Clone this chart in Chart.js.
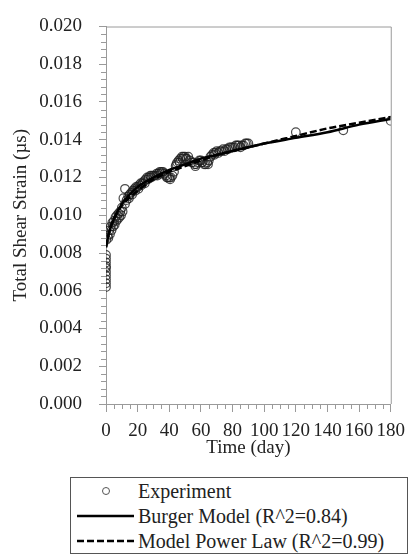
<!DOCTYPE html>
<html>
<head>
<meta charset="utf-8">
<script src="https://cdn.jsdelivr.net/npm/chart.js@4"></script>
<style>
    body{margin:0;background:#fff;}
    #wrap{position:relative;width:415px;height:470px;}
    #legend{position:absolute;left:70px;top:477px;width:338px;height:77px;border:1px solid #555;box-sizing:border-box;
        font-family:"Liberation Serif",serif;font-size:20px;color:#222;}
    #legend .row{position:absolute;left:0;height:26px;display:flex;align-items:center;white-space:nowrap;}
    #legend svg{margin-left:6px;margin-right:4px;}
</style>
</head>
<body>
<div id="wrap"><canvas id="chart"></canvas></div>
<div id="legend">
    <div class="row" style="top:0px;"><svg width="57" height="10"><circle cx="29" cy="5" r="3.5" fill="none" stroke="#555" stroke-width="1"/></svg>Experiment</div>
    <div class="row" style="top:25px;"><svg width="57" height="10"><line x1="0" y1="5" x2="57" y2="5" stroke="#000" stroke-width="2.5"/></svg>Burger Model (R^2=0.84)</div>
    <div class="row" style="top:50px;"><svg width="57" height="10"><line x1="0" y1="5" x2="57" y2="5" stroke="#000" stroke-width="2.5" stroke-dasharray="7,3"/></svg>Model Power Law (R^2=0.99)</div>
</div>
<script>
// experiment readings
const expDays = [0,0,0,0,0,0,0,0,0,0,0.3,
    1,2,3,4,5,6,7,8,9,10,11,12,12,13,14,15,16,17,18,19,20,21,22,23,24,25,26,27,28,29,30,
    31,32,33,34,35,36,37,38,39,40,41,42,43,44,45,46,47,48,49,50,51,52,53,54,55,56,57,58,59,60,
    61,62,63,64,65,66,67,68,69,70,72,74,76,78,80,82,84,86,88,90,120,150,180,
    1.5,2.5,3.5,4.5,5.5,6.5,7.5,8.5,9.5,10.5,14.5,16.5,18.5,20.5,22.5,24.5,26.5,28.5,32.5,34.5,
    38.5,40.5,44.5,46.5,48.5,50.5,56.5,60.5,64.5,68.5,71,73,75,77,79,81,83,85,87,89];
const expStrain = [0.0062,0.0064,0.0066,0.0068,0.0070,0.0072,0.0073,0.0075,0.0077,0.0079,0.0087,
    0.0089,0.0092,0.0094,0.0096,0.0097,0.0099,0.0100,0.0101,0.0102,0.0104,0.0109,0.0114,0.0106,0.0108,0.0110,0.0111,0.0112,0.0113,0.0114,0.0115,0.0115,0.0116,0.0117,0.0117,0.0118,0.0119,0.0120,0.0120,0.0121,0.0121,0.0121,
    0.0121,0.0122,0.0122,0.0123,0.0123,0.0123,0.0122,0.0121,0.0120,0.0120,0.0120,0.0121,0.0123,0.0126,0.0128,0.0129,0.0130,0.0131,0.0131,0.0131,0.0130,0.0131,0.0129,0.0128,0.0128,0.0127,0.0127,0.0128,0.0129,0.0129,
    0.0128,0.0127,0.0127,0.0128,0.0129,0.0131,0.0132,0.0133,0.0133,0.0134,0.0134,0.0135,0.0135,0.0136,0.0136,0.0137,0.0137,0.0137,0.0138,0.0138,0.0144,0.0145,0.0150,
    0.0088,0.0090,0.0092,0.0094,0.0095,0.0097,0.0098,0.0099,0.0100,0.0102,0.0109,0.0111,0.0113,0.0114,0.0116,0.0117,0.0119,0.0120,0.0121,0.0122,
    0.0120,0.0119,0.0127,0.0128,0.0130,0.0130,0.0126,0.0128,0.0127,0.0132,0.0133,0.0134,0.0134,0.0135,0.0136,0.0136,0.0137,0.0136,0.0137,0.0138];

// Burger model fit
const burgerDays = [0,2,5,10,15,20,30,40,50,60,70,80,90,100,120,140,160,180];
const burgerStrain = [0.0083,0.0091,0.0098,0.0106,0.0111,0.0115,0.0120,0.0124,0.0127,0.0130,0.0132,0.0134,0.0136,0.0138,0.0141,0.0144,0.0148,0.0151];

// power law fit
const powerDays = [0,2,5,10,20,30,40,50,60,70,80,90,100,120,140,160,180];
const powerStrain = [0.0083,0.0091,0.0098,0.0105,0.0113,0.0119,0.0123,0.0126,0.0129,0.0132,0.0134,0.0136,0.0138,0.0142,0.0146,0.0149,0.0152];

const xMajor = 20, xMinor = 5;
const yMajor = 0.002, yMinor = 0.0004;

let axisColor = "#9a9a9a";
let font = {"family": "'Liberation Serif', serif", "size": 19, "lineHeight": 1};
let isMajor = (v, step)=>Math.abs(Math.round(v/step)*step - v) < step*1e-3;
let toPoints = (xs, ys)=>xs.map((d, i)=>({"x": d, "y": ys[i]}));

// top/right frame and short minor ticks
const axisExtras = {
    "id": "axisExtras",
    "afterDraw": (chart)=>{
        let {ctx, chartArea: a, scales: {x, y}} = chart;
        ctx.save();
        ctx.strokeStyle = axisColor;
        ctx.lineWidth = 1;
        ctx.beginPath();
        ctx.moveTo(a.left, a.top+0.5);
        ctx.lineTo(a.right+0.5, a.top+0.5);
        ctx.lineTo(a.right+0.5, a.bottom);
        x.ticks.forEach((t)=>{
            if(isMajor(t.value, xMajor)) return;
            let px = Math.round(x.getPixelForValue(t.value))+0.5;
            ctx.moveTo(px, a.bottom); ctx.lineTo(px, a.bottom+5);
        });
        y.ticks.forEach((t)=>{
            if(isMajor(t.value, yMajor)) return;
            let py = Math.round(y.getPixelForValue(t.value))+0.5;
            ctx.moveTo(a.left, py); ctx.lineTo(a.left-5, py);
        });
        ctx.stroke();
        ctx.restore();
    }
};

new Chart(document.getElementById("chart"), {
    "type": "scatter",
    "data": {
        "datasets": [
            {
                "label": "Burger Model (R^2=0.84)",
                "data": toPoints(burgerDays, burgerStrain),
                "showLine": true,
                "borderColor": "#000",
                "borderWidth": 2.5,
                "pointRadius": 0,
                "cubicInterpolationMode": "monotone",
                "order": 1,
            },
            {
                "label": "Model Power Law (R^2=0.99)",
                "data": toPoints(powerDays, powerStrain),
                "showLine": true,
                "borderColor": "#000",
                "borderWidth": 2.5,
                "borderDash": [7, 3],
                "pointRadius": 0,
                "cubicInterpolationMode": "monotone",
                "order": 0,
            },
            {
                "label": "Experiment",
                "data": toPoints(expDays, expStrain),
                "pointStyle": "circle",
                "pointRadius": 4.3,
                "borderColor": "rgba(30,30,30,0.8)",
                "backgroundColor": "rgba(0,0,0,0)",
                "borderWidth": 1.2,
                "order": 2,
            },
        ],
    },
    "options": {
        "responsive": true,
        "maintainAspectRatio": false,
        "animation": false,
        "layout": {"padding": {"left": 12, "right": 12, "top": 9, "bottom": 12}},
        "plugins": {"legend": {"display": false}, "tooltip": {"enabled": false}},
        "scales": {
            "x": {
                "min": 0, "max": 180,
                "afterFit": (s)=>{ s.height = 54; },
                "border": {"color": axisColor},
                "grid": {
                    "drawOnChartArea": false,
                    "tickLength": 8,
                    "color": (c)=>(c.tick && isMajor(c.tick.value, xMajor)) ? axisColor : "rgba(0,0,0,0)",
                },
                "ticks": {
                    "stepSize": xMinor,
                    "autoSkip": false,
                    "maxRotation": 0, "minRotation": 0,
                    "padding": 10,
                    "color": "#222",
                    "font": font,
                    "callback": (v)=>isMajor(v, xMajor) ? String(Math.round(v)) : "",
                },
                "title": {"display": true, "text": "Time (day)", "color": "#222", "font": font, "padding": {"top": 0, "bottom": 0}},
            },
            "y": {
                "min": 0, "max": 0.02,
                "afterFit": (s)=>{ s.width = 94; },
                "border": {"color": axisColor},
                "grid": {
                    "drawOnChartArea": false,
                    "tickLength": 7,
                    "color": (c)=>(c.tick && isMajor(c.tick.value, yMajor)) ? axisColor : "rgba(0,0,0,0)",
                },
                "ticks": {
                    "stepSize": yMinor,
                    "autoSkip": false,
                    "padding": 17,
                    "color": "#222",
                    "font": font,
                    "callback": (v)=>isMajor(v, yMajor) ? (Math.round(v/yMajor)*yMajor).toFixed(3) : "",
                },
                "title": {"display": true, "text": "Total Shear Strain (µs)", "color": "#222", "font": font, "padding": {"top": 0, "bottom": 0}},
            },
        },
    },
    "plugins": [axisExtras],
});
</script>
</body>
</html>
